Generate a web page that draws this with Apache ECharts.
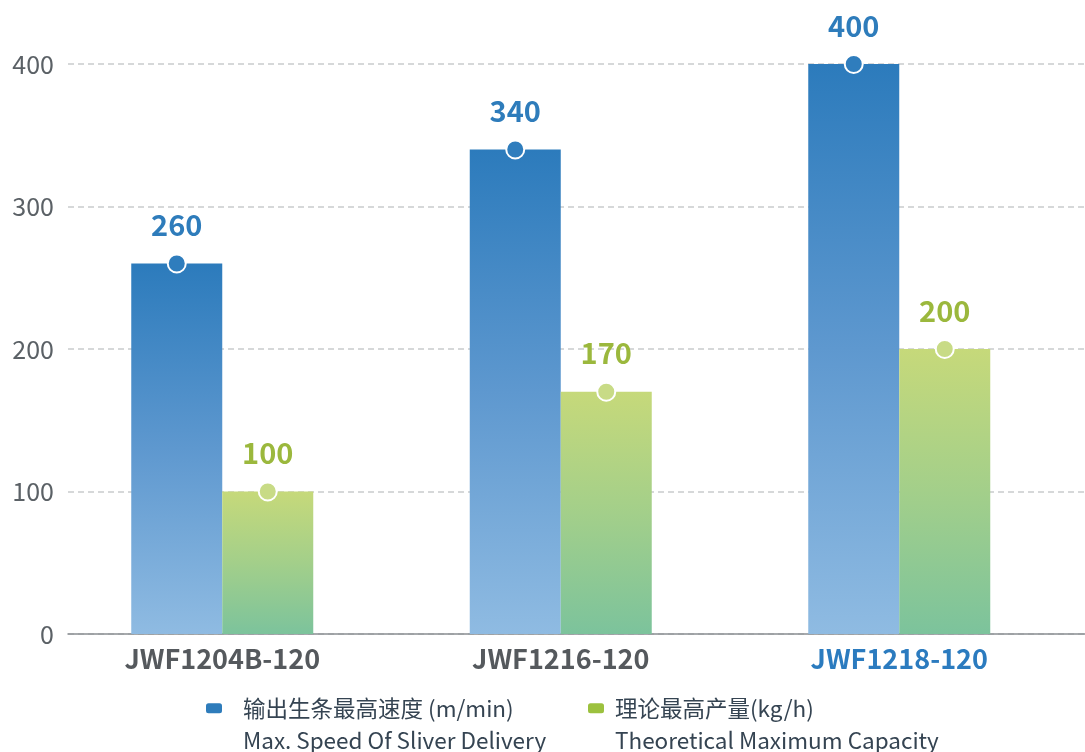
<!DOCTYPE html>
<html>
<head>
<meta charset="utf-8">
<script src="https://cdn.jsdelivr.net/npm/echarts@6/dist/echarts.min.js"></script>
<style>
html,body{margin:0;padding:0;background:#fff;}
#chart{width:1085px;height:752px;}
</style>
</head>
<body>
<div id="chart"></div>
<script>
const categories = ['JWF1204B-120', 'JWF1216-120', 'JWF1218-120'];
const speedValues = [260, 340, 400];
const capacityValues = [100, 170, 200];
const seriesNames = ['输出生条最高速度 (m/min)', '理论最高产量(kg/h)'];
const englishNames = ['Max. Speed Of Sliver Delivery', 'Theoretical Maximum Capacity'];
const categoryColors = ['#55595d', '#55595d', '#2b7bbf'];

const FONT = '"Noto Sans CJK SC", "Noto Sans", sans-serif';
const chart = echarts.init(document.getElementById('chart'));

function markPoints(values, fill) {
  return {
    symbol: 'circle',
    symbolSize: 18,
    itemStyle: { color: fill, borderColor: '#ffffff', borderWidth: 2 },
    label: { show: false },
    data: values.map((v, i) => ({ coord: [categories[i], v], value: v }))
  };
}

const option = {
  backgroundColor: '#ffffff',
  animation: false,
  textStyle: { fontFamily: FONT },
  grid: [
    { left: 68, right: 0, top: 64, bottom: 118 },
    { left: 53, right: 16.5, top: 64, bottom: 118 }
  ],
  xAxis: [
    {
      gridIndex: 0, type: 'value', min: 0, max: 1,
      axisLine: { show: true, lineStyle: { color: '#8a8f93', width: 1.5 } },
      axisTick: { show: false }, axisLabel: { show: false }, splitLine: { show: false }
    },
    {
      gridIndex: 1, type: 'category', data: categories,
      axisLine: { show: false }, axisTick: { show: false },
      axisLabel: {
        margin: 11,
        fontSize: 27, fontWeight: 'bold', fontFamily: FONT,
        color: (val, idx) => categoryColors[idx]
      }
    }
  ],
  yAxis: [
    {
      gridIndex: 0, type: 'value', min: 0, max: 400, interval: 100,
      axisLine: { show: false }, axisTick: { show: false },
      axisLabel: { margin: 14, fontSize: 25, color: '#5b6166', fontFamily: FONT },
      splitLine: { show: true, lineStyle: { color: '#c9cbcd', width: 1.5, type: [6, 4] } }
    },
    {
      gridIndex: 1, type: 'value', min: 0, max: 400, show: false
    }
  ],
  legend: [
    {
      data: [{ name: seriesNames[0], itemStyle: { color: '#2e7cbb' } }], left: 206, top: 697, padding: 0,
      icon: 'roundRect', itemWidth: 16, itemHeight: 10,
      textStyle: { fontSize: 22.5, color: '#354452', fontFamily: FONT, padding: [0, 0, 0, 16] }
    },
    {
      data: [{ name: seriesNames[1], itemStyle: { color: '#9cc13e' } }], left: 588, top: 697, padding: 0,
      icon: 'roundRect', itemWidth: 16, itemHeight: 10,
      textStyle: { fontSize: 22.5, color: '#354452', fontFamily: FONT, padding: [0, 0, 0, 6] }
    }
  ],
  graphic: [
    { type: 'text', x: 243, y: 740, style: { text: englishNames[0], font: '22.5px ' + FONT, fill: '#354452', verticalAlign: 'middle' } },
    { type: 'text', x: 615, y: 740, style: { text: englishNames[1], font: '22.5px ' + FONT, fill: '#354452', verticalAlign: 'middle' } }
  ],
  series: [
    {
      name: seriesNames[0], type: 'bar', xAxisIndex: 1, yAxisIndex: 1,
      data: speedValues, barWidth: 91, barGap: '0%',
      itemStyle: {
        color: new echarts.graphic.LinearGradient(0, 0, 0, 1, [
          { offset: 0, color: '#2c7bbc' },
          { offset: 0.5, color: '#5e98cf' },
          { offset: 1, color: '#8fbbe2' }
        ])
      },
      label: { show: true, position: 'top', distance: 24, fontSize: 29, fontWeight: 'bold', color: '#2e7cbb', fontFamily: FONT },
      markPoint: markPoints(speedValues, '#2f7dbd')
    },
    {
      name: seriesNames[1], type: 'bar', xAxisIndex: 1, yAxisIndex: 1,
      data: capacityValues, barWidth: 91, barGap: '0%',
      itemStyle: {
        color: new echarts.graphic.LinearGradient(0, 0, 0, 1, [
          { offset: 0, color: '#c6d97a' },
          { offset: 0.5, color: '#a3cf8a' },
          { offset: 1, color: '#7cc39c' }
        ])
      },
      label: { show: true, position: 'top', distance: 24, fontSize: 29, fontWeight: 'bold', color: '#9bb83d', fontFamily: FONT },
      markPoint: markPoints(capacityValues, '#c8db86')
    }
  ]
};
chart.setOption(option);
</script>
</body>
</html>
